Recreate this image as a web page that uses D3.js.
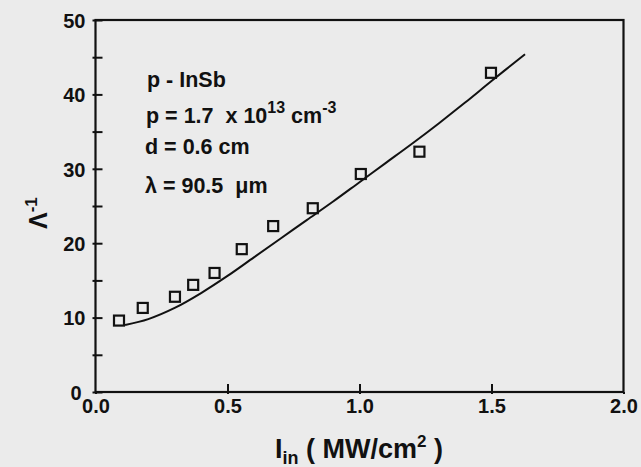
<!DOCTYPE html>
<html>
<head>
<meta charset="utf-8">
<script src="https://cdnjs.cloudflare.com/ajax/libs/d3/7.8.5/d3.min.js"></script>
<style>
  body { margin: 0; background: #ebebeb; }
  svg { display: block; }
  text { white-space: pre; }
</style>
</head>
<body>
<div id="viz"></div>
<script>
// measured points (squares)
var pointX = [0.089, 0.179, 0.301, 0.370, 0.451, 0.554, 0.673, 0.823, 1.005, 1.227, 1.498];
var pointY = [9.6, 11.3, 12.8, 14.4, 16.0, 19.2, 22.3, 24.7, 29.3, 32.3, 42.9];

// calculated curve
var curveX = [0.112, 0.2, 0.3, 0.4, 0.5, 0.6, 0.7, 0.8, 0.9, 1.0, 1.1, 1.2, 1.3, 1.4, 1.5, 1.627];
var curveY = [9.0, 9.8, 11.3, 13.3, 15.6, 18.1, 20.6, 23.1, 25.6, 28.2, 30.8, 33.4, 36.1, 38.9, 41.8, 45.4];

var xTicks = [0.0, 0.5, 1.0, 1.5, 2.0];
var yTicks = [0, 10, 20, 30, 40, 50];
var yMinor = [5, 15, 25, 35, 45];

var width = 641, height = 467;
var margin = {top: 20, right: 17.5, bottom: 75, left: 95.5};
var ink = "#111";

var svg = d3.select("#viz").append("svg")
  .attr("width", width)
  .attr("height", height)
  .style("font-family", "'Liberation Sans', Arial, sans-serif");

var x = d3.scaleLinear().domain([0, 2]).range([margin.left, width - margin.right]);
var y = d3.scaleLinear().domain([0, 50]).range([height - margin.bottom, margin.top]);

// frame
svg.append("rect")
  .attr("x", x(0)).attr("y", y(50))
  .attr("width", x(2) - x(0)).attr("height", y(0) - y(50))
  .attr("fill", "none").attr("stroke", ink).attr("stroke-width", 2.2);

// y axis
var yAxis = svg.append("g")
  .attr("transform", "translate(" + x(0) + ",0)")
  .call(d3.axisLeft(y).tickValues(yTicks.concat(yMinor)).tickSize(0).tickPadding(10)
    .tickFormat(d => yTicks.indexOf(d) >= 0 ? d : ""));
yAxis.select(".domain").remove();
yAxis.selectAll(".tick line").attr("x1", -3).attr("x2", 7).attr("stroke", ink).attr("stroke-width", 2);
yAxis.selectAll(".tick text")
  .attr("fill", ink).style("font-size", "20px").style("font-weight", "bold")
  .attr("dy", "0.36em");
yAxis.selectAll(".tick").filter(d => d === 0).select("text").attr("dx", -4);

// x axis
var xAxis = svg.append("g")
  .attr("transform", "translate(0," + y(0) + ")")
  .call(d3.axisBottom(x).tickValues(xTicks).tickSize(0).tickPadding(7).tickFormat(d3.format(".1f")));
xAxis.select(".domain").remove();
xAxis.selectAll(".tick line")
  .attr("y1", 2).attr("y2", d => (d > 0 && d < 2) ? -8 : 0)
  .attr("stroke", ink).attr("stroke-width", 2);
xAxis.selectAll(".tick text")
  .attr("fill", ink).style("font-size", "20px").style("font-weight", "bold");

// curve
var line = d3.line()
  .x(d => x(d[0])).y(d => y(d[1]))
  .curve(d3.curveCatmullRom.alpha(0.5));
svg.append("path")
  .datum(d3.zip(curveX, curveY))
  .attr("d", line)
  .attr("fill", "none").attr("stroke", ink).attr("stroke-width", 2);

// squares
var s = 10;
svg.append("g").selectAll("rect")
  .data(d3.zip(pointX, pointY))
  .join("rect")
  .attr("x", d => x(d[0]) - s / 2)
  .attr("y", d => y(d[1]) - s / 2)
  .attr("width", s).attr("height", s)
  .attr("fill", "none").attr("stroke", ink).attr("stroke-width", 2.2);

// annotation
var note = svg.append("g")
  .attr("fill", ink)
  .style("font-size", "21.5px").style("font-weight", "bold");
note.append("text").attr("x", 147).attr("y", 87).text("p - InSb");
var t2 = note.append("text").attr("x", 146).attr("y", 123);
t2.append("tspan").text("p = 1.7  x 10");
t2.append("tspan").attr("dy", -10).style("font-size", "16px").text("13");
t2.append("tspan").attr("dy", 10).text(" cm");
t2.append("tspan").attr("dy", -10).style("font-size", "16px").text("-3");
note.append("text").attr("x", 145).attr("y", 154).text("d = 0.6 cm");
note.append("text").attr("x", 145).attr("y", 193).text("\u03bb = 90.5  \u03bcm");

// x title
var xt = svg.append("text")
  .attr("x", 275).attr("y", 458)
  .attr("fill", ink).style("font-size", "27px").style("font-weight", "bold");
xt.append("tspan").text("I");
xt.append("tspan").attr("dy", 6).style("font-size", "18px").text("in");
xt.append("tspan").attr("dy", -6).text(" ( MW/cm");
xt.append("tspan").attr("dy", -11).style("font-size", "17px").text("2");
xt.append("tspan").attr("dy", 11).text(" )");

// y title
var yt = svg.append("text")
  .attr("transform", "translate(47,229) rotate(-90)")
  .attr("fill", ink).style("font-size", "25px").style("font-weight", "bold");
yt.append("tspan").text("\u039b");
yt.append("tspan").attr("dy", -10).style("font-size", "17px").text("-1");
</script>
</body>
</html>
